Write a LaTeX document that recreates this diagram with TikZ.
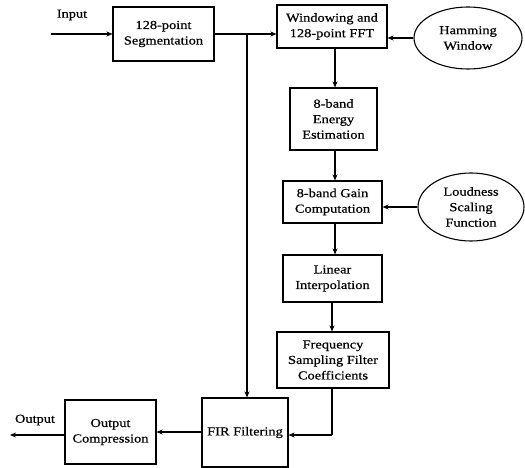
\documentclass[tikz,border=0pt]{standalone}
\usepackage{fontspec}
\setmainfont{Liberation Serif}[FakeStretch=1.18,FakeBold=0.6]
\usetikzlibrary{arrows.meta,shapes.geometric}
\begin{document}
\begin{tikzpicture}[x=1pt,y=-1pt,
  blk/.style={draw,line width=1.1pt,align=center,inner sep=0pt,font=\fontsize{12.2}{15.5}\selectfont},
  oval/.style={draw,ellipse,line width=1.1pt,align=center,inner sep=0pt,font=\fontsize{12.2}{15.5}\selectfont},
  lbl/.style={font=\fontsize{12.2}{15.5}\selectfont,inner sep=0pt},
  arr/.style={line width=1.1pt,-{Stealth[length=6pt,width=5pt]}},
  ln/.style={line width=1.1pt}]
\useasboundingbox (0,0) rectangle (525,468);
\node[blk,minimum width=101pt,minimum height=54pt] (seg) at (163.5,34) {128-point\\Segmentation};
\node[blk,minimum width=110pt,minimum height=43pt] (win) at (332,26.5) {Windowing and\\128-point FFT};
\node[oval,minimum width=108pt,minimum height=62pt] (ham) at (468,38) {Hamming\\Window};
\node[blk,minimum width=87pt,minimum height=62pt] (en) at (333.5,119) {8-band\\Energy\\Estimation};
\node[blk,minimum width=99pt,minimum height=42pt] (gain) at (332.5,202) {8-band Gain\\Computation};
\node[oval,minimum width=106pt,minimum height=68pt] (loud) at (471,207) {Loudness\\Scaling\\Function};
\node[blk,minimum width=99pt,minimum height=47pt] (lin) at (332.5,278.5) {Linear\\Interpolation};
\node[blk,minimum width=112pt,minimum height=56pt] (freq) at (333,360) {Frequency\\Sampling Filter\\Coefficients};
\node[blk,minimum width=86pt,minimum height=69pt] (fir) at (245,432.5) {FIR Filtering};
\node[blk,minimum width=91pt,minimum height=64pt] (outc) at (110.5,432) {Output\\Compression};
\node[lbl] (inl) at (72,15) {Input};
\node[lbl] (outl) at (35,420) {Output};
\coordinate (in) at (51,34);
\coordinate (out) at (10,435);
\coordinate (br) at (247,34);
\coordinate (fc) at (332,435);
\draw[arr] (in) -- (seg.west);
\draw[arr] (seg.east) -- (seg.east -| win.west);
\draw[arr] (br) -- (br |- fir.north);
\draw[arr] (ham.west) -- (ham.west -| win.east);
\draw[arr] (win.south -| 335,0) -- (en.north -| 335,0);
\draw[arr] (en.south -| 335,0) -- (gain.north -| 335,0);
\draw[arr] (loud.west) -- (loud.west -| gain.east);
\draw[arr] (gain.south -| 335,0) -- (lin.north -| 335,0);
\draw[arr] (lin.south -| 332,0) -- (freq.north -| 332,0);
\draw[ln] (freq.south -| fc) -- (fc);
\draw[arr] (fc) -- (fc -| fir.east);
\draw[arr] (fir.west |- outc.east) -- (outc.east);
\draw[arr] (outc.west |- out) -- (out);
\end{tikzpicture}
\end{document}
